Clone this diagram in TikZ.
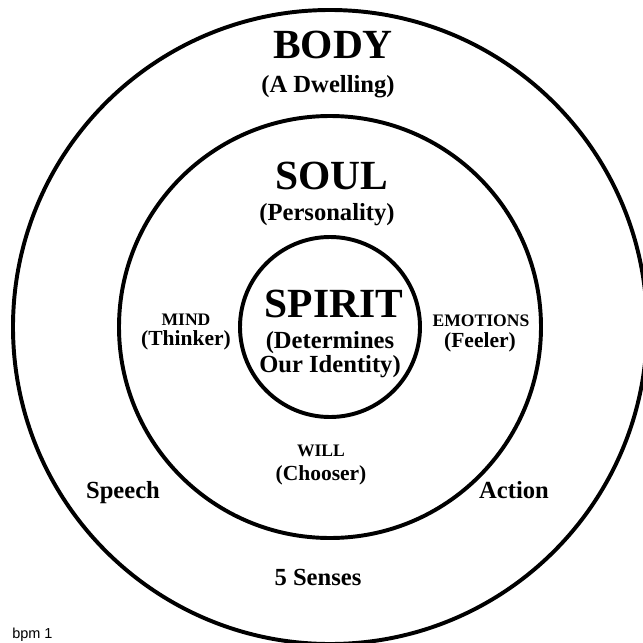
\documentclass[tikz,border=0pt]{standalone}
\usepackage{fontspec}
\setmainfont{Liberation Serif}
\newfontfamily\labelsans{Liberation Sans}
\tikzset{
  ring/.style={draw, circle, line width=2.8pt, inner sep=0pt},
  title/.style={anchor=base, font=\bfseries\fontsize{29.5}{30}\selectfont},
  subtitle/.style={anchor=base, font=\bfseries\fontsize{17.5}{18}\selectfont},
  part/.style={anchor=base, font=\bfseries\fontsize{12.5}{13}\selectfont},
  role/.style={anchor=base, font=\bfseries\fontsize{15.3}{16}\selectfont},
}
\begin{document}
\begin{tikzpicture}[x=0.25mm, y=-0.25mm]
\useasboundingbox (0,0) rectangle (643,643);
\clip (0,0) rectangle (643,643);
\coordinate (c) at (330,327);
\node[ring, minimum size=158.5mm] (bodyring) at (c) {};
\node[ring, minimum size=105.5mm] (soulring) at (c) {};
\node[ring, minimum size=45mm] (spiritring) at (c) {};
\node[title] (body) at (333,58) {BODY};
\node[subtitle] (dwelling) at (328,92) {(A Dwelling)};
\node[title] (soul) at (332,189) {SOUL};
\node[subtitle] (personality) at (327,220) {(Personality)};
\node[title] (spirit) at (334,317) {SPIRIT};
\node[subtitle, align=center, inner sep=0pt, font=\bfseries\fontsize{17.5}{14.8}\selectfont] (identity) at (330,372) {(Determines\\Our Identity)};
\node[part] (mind) at (186,325) {MIND};
\node[role] (thinker) at (186,345) {(Thinker)};
\node[part] (emotions) at (481,326) {EMOTIONS};
\node[role] (feeler) at (480,347) {(Feeler)};
\node[part] (will) at (321,456) {WILL};
\node[role] (chooser) at (321,480) {(Chooser)};
\node[subtitle] (speech) at (123,498) {Speech};
\node[subtitle] (action) at (514,498) {Action};
\node[subtitle] (senses) at (318,585) {5 Senses};
\node[anchor=base west, inner sep=0pt, font=\labelsans\fontsize{10.3}{11}\selectfont] (bpm) at (12,638) {bpm 1};
\end{tikzpicture}
\end{document}
